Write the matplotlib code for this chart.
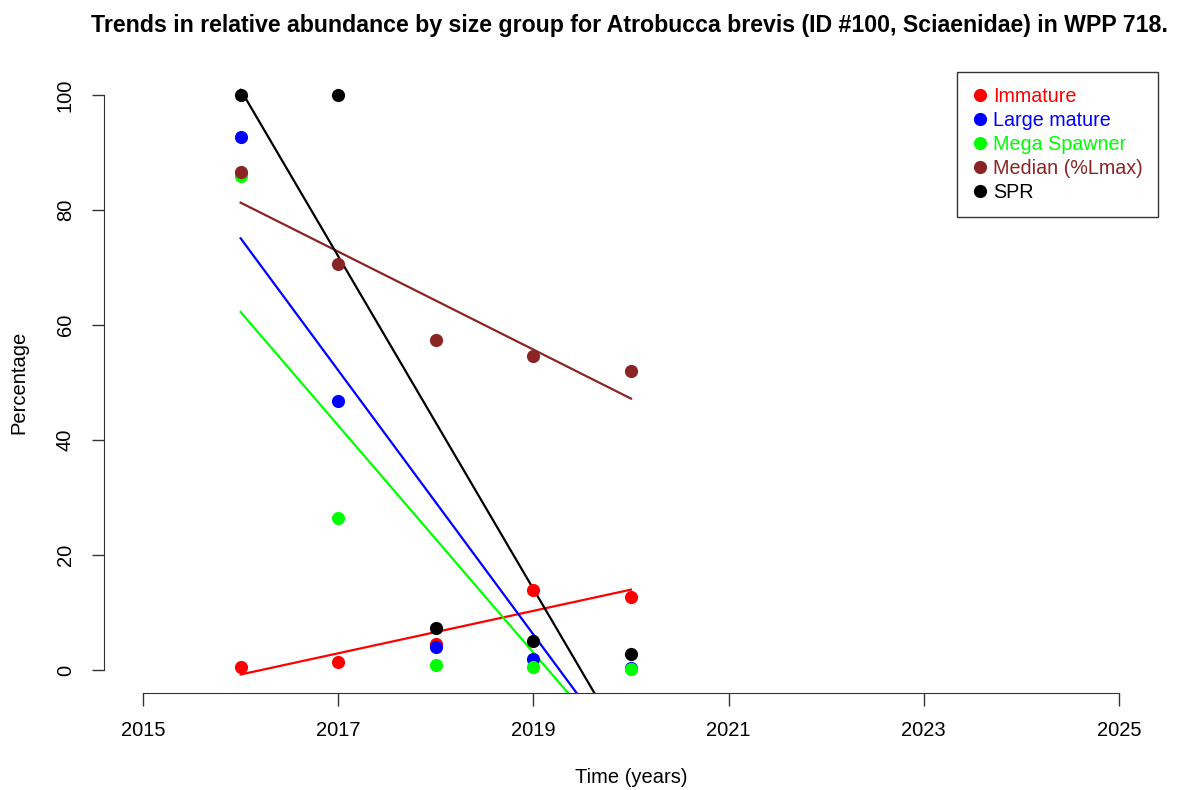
import numpy as np
import matplotlib
matplotlib.use("Agg")
import matplotlib.pyplot as plt
from matplotlib.lines import Line2D

plt.rcParams['font.family'] = ['Liberation Sans', 'DejaVu Sans']

years = [2016, 2017, 2018, 2019, 2020]
immature = [0.5, 1.4, 4.5, 13.9, 12.7]
large_mature = [92.7, 46.8, 4.0, 1.9, 0.3]
mega_spawner = [85.9, 26.4, 0.9, 0.5, 0.1]
median_lmax = [86.6, 70.6, 57.4, 54.6, 52.0]
spr = [100.0, 100.0, 7.3, 5.0, 2.8]

labels = ["Immature", "Large mature", "Mega Spawner", "Median (%Lmax)", "SPR"]
colors = ["#FF0000", "#0000FF", "#00FF00", "#8B2525", "#000000"]
series = [immature, large_mature, mega_spawner, median_lmax, spr]

fig = plt.figure(figsize=(11.88, 7.9), dpi=100)
ax = fig.add_axes([104/1188, 97/790, (1158-104)/1188, (693-72)/790])

x = np.array(years, dtype=float)
for ys, c in zip(series, colors):
    ax.scatter(x, ys, s=90, color=c, zorder=3, linewidths=0)
# linear trend for each group
for ys, c in zip(series, colors):
    b, a = np.polyfit(x, ys, 1)
    ax.plot([x[0], x[-1]], [a + b*x[0], a + b*x[-1]], color=c, lw=1.6, zorder=2)

ax.set_xlim(2014.6, 2025.4)
ax.set_ylim(-4, 104)
for s in ax.spines.values():
    s.set_visible(False)

# R style detached axes
ax.spines['left'].set_visible(True)
ax.spines['left'].set_bounds(0, 100)
ax.spines['bottom'].set_visible(True)
ax.spines['bottom'].set_bounds(2015, 2025)
ax.spines['left'].set_color('#333333')
ax.spines['bottom'].set_color('#333333')

ax.set_xticks([2015, 2017, 2019, 2021, 2023, 2025])
ax.set_yticks([0, 20, 40, 60, 80, 100])
ax.set_yticklabels(["0", "20", "40", "60", "80", "100"], rotation=90, va='center')
ax.tick_params(axis='both', length=9, width=1.0, color='#333333', labelsize=14.5)
ax.tick_params(axis='x', pad=11)
ax.tick_params(axis='y', pad=12)

ax.set_xlabel("Time (years)", fontsize=14.5, labelpad=20)
ax.set_ylabel("Percentage", fontsize=14.5, labelpad=20)
fig.suptitle("Trends in relative abundance by size group for Atrobucca brevis (ID #100, Sciaenidae) in WPP 718.",
             fontsize=16.7, fontweight='bold', x=0.53, y=0.982)

handles = [Line2D([], [], ls='none', marker='o', markersize=9.5, markeredgewidth=0,
                  color=c, label=l) for c, l in zip(colors, labels)]
leg = ax.legend(handles=handles, loc='upper right', frameon=True, fontsize=14.2,
                borderaxespad=0, fancybox=False, handletextpad=0.3, labelspacing=0.26,
                borderpad=0.75, handlelength=0.8)
leg.get_frame().set_edgecolor('black')
leg.get_frame().set_linewidth(1.0)
for t, c in zip(leg.get_texts(), colors):
    t.set_color(c)

fig.savefig("out.png", dpi=100)
